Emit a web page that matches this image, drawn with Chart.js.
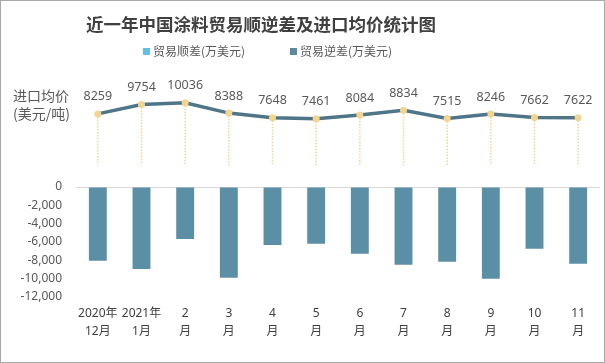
<!DOCTYPE html>
<html>
<head>
<meta charset="utf-8">
<script src="https://cdn.jsdelivr.net/npm/chart.js@4/dist/chart.umd.min.js"></script>
<style>
    html, body { margin: 0; padding: 0; background: #fff; }
    #wrap { width: 605px; height: 363px; box-sizing: border-box; border: 1px solid #a9a9a9; position: relative; }
</style>
</head>
<body>
<div id="wrap"><canvas id="chart"></canvas></div>
<script>
// Data
const months = [
    ['2020年', '12月'], ['2021年', '1月'], ['2', '月'], ['3', '月'], ['4', '月'], ['5', '月'],
    ['6', '月'], ['7', '月'], ['8', '月'], ['9', '月'], ['10', '月'], ['11', '月']
];
const tradeSurplus = [0, 0, 0, 0, 0, 0, 0, 0, 0, 0, 0, 0];           // 贸易顺差(万美元)
const tradeDeficit = [-8050, -8950, -5670, -9890, -6330, -6180,
                      -7270, -8470, -8150, -10000, -6730, -8360];     // 贸易逆差(万美元)
const importPrice = [8259, 9754, 10036, 8388, 7648, 7461, 8084, 8834, 7515, 8246, 7662, 7622]; // 美元/吨
const deficitTicks = [0, -2000, -4000, -6000, -8000, -10000, -12000];

const FONT = '"Noto Sans", "Noto Sans CJK SC", sans-serif';
const CJK = '"Noto Sans CJK SC", sans-serif';

// Title, legend row and the left caption of the price line
const headings = {
    id: 'headings',
    afterDraw(chart) {
        const ctx = chart.ctx;
        ctx.save();
        ctx.textBaseline = 'middle';
        ctx.fillStyle = '#404040';
        ctx.font = 'bold 17.5px ' + CJK;
        ctx.textAlign = 'center';
        ctx.fillText('近一年中国涂料贸易顺逆差及进口均价统计图', 260, 23);

        ctx.textAlign = 'left';
        ctx.font = '12px ' + CJK;
        const items = [
            { text: '贸易顺差(万美元)', color: '#63c0e4', x: 142 },
            { text: '贸易逆差(万美元)', color: '#5b8a9c', x: 289 }
        ];
        items.forEach(it => {
            ctx.fillStyle = it.color;
            ctx.fillRect(it.x, 47, 7, 7);
            ctx.fillStyle = '#595959';
            ctx.fillText(it.text, it.x + 10, 50);
        });

        ctx.font = '14px ' + CJK;
        ctx.fillText('进口均价', 12, 95);
        ctx.fillText('(美元/吨)', 12, 113);
        ctx.restore();
    }
};

// Dotted drop lines from each price point down to the price axis zero
const dropLines = {
    id: 'dropLines',
    beforeDatasetsDraw(chart) {
        const ctx = chart.ctx;
        const meta = chart.getDatasetMeta(2);
        const y0 = chart.scales.y2.getPixelForValue(0);
        ctx.save();
        ctx.setLineDash([1.5, 1.5]);
        ctx.strokeStyle = '#efd596';
        ctx.lineWidth = 1.5;
        meta.data.forEach(p => {
            ctx.beginPath();
            ctx.moveTo(p.x, p.y);
            ctx.lineTo(p.x, y0);
            ctx.stroke();
        });
        ctx.restore();
    }
};

// Value labels above the price points
const priceLabels = {
    id: 'priceLabels',
    afterDatasetsDraw(chart) {
        const ctx = chart.ctx;
        const meta = chart.getDatasetMeta(2);
        ctx.save();
        ctx.font = '12.5px ' + FONT;
        ctx.fillStyle = '#595959';
        ctx.textAlign = 'center';
        ctx.textBaseline = 'middle';
        meta.data.forEach((p, i) => ctx.fillText(importPrice[i], p.x, p.y - 17));
        ctx.restore();
    }
};

new Chart(document.getElementById('chart'), {
    data: {
        labels: months,
        datasets: [
            {
                type: 'bar', label: '贸易顺差(万美元)', data: tradeSurplus, yAxisID: 'y',
                backgroundColor: '#63c0e4', grouped: false, barPercentage: 0.41, categoryPercentage: 1
            },
            {
                type: 'bar', label: '贸易逆差(万美元)', data: tradeDeficit, yAxisID: 'y',
                backgroundColor: '#5b8fa6', grouped: false, barPercentage: 0.41, categoryPercentage: 1
            },
            {
                type: 'line', label: '进口均价(美元/吨)', data: importPrice, yAxisID: 'y2',
                borderColor: '#4e7588', borderWidth: 3.5, tension: 0,
                pointRadius: 3.5, pointBorderWidth: 0, pointBackgroundColor: '#f3d590'
            }
        ]
    },
    options: {
        responsive: true,
        maintainAspectRatio: false,
        animation: false,
        layout: { padding: { top: 71, right: 0, left: 0, bottom: 0 } },
        plugins: {
            legend: { display: false },
            title: { display: false },
            tooltip: { enabled: false }
        },
        scales: {
            x: {
                grid: { display: false, drawTicks: false },
                border: { display: false },
                ticks: {
                    color: '#404040', padding: 8, maxRotation: 0, autoSkip: false,
                    font: { size: 12, family: FONT, lineHeight: 1.5 }
                },
                afterFit(s) { s.height = 65; }
            },
            y: {
                stack: 'v', stackWeight: 110,
                min: -12000, max: 0,
                afterBuildTicks(s) { s.ticks = deficitTicks.map(v => ({ value: v })); },
                ticks: {
                    color: '#595959', padding: 14, autoSkip: false,
                    font: { size: 12, family: FONT },
                    callback: v => v.toLocaleString('en-US')
                },
                grid: {
                    drawTicks: false,
                    color: c => (c.tick && c.tick.value === 0) ? '#d9d9d9' : 'rgba(0,0,0,0)'
                },
                border: { display: false },
                afterFit(s) { s.width = 75; }
            },
            y2: {
                stack: 'v', stackWeight: 115,
                min: -3500, max: 15000,
                display: false
            }
        }
    },
    plugins: [headings, dropLines, priceLabels]
});
</script>
</body>
</html>
